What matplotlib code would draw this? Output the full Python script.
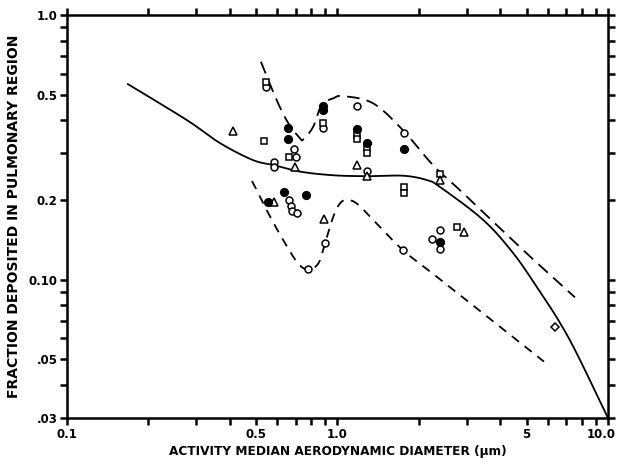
import matplotlib
matplotlib.use("Agg")
import matplotlib.pyplot as plt
import matplotlib.transforms as mtransforms
import numpy as np

# data (diameter in um, fraction deposited)
filled_x = [0.658, 0.658, 0.886, 0.886, 1.178, 1.282, 1.762, 0.634, 0.765, 0.555, 2.393]
filled_y = [0.373, 0.339, 0.453, 0.438, 0.370, 0.328, 0.311, 0.215, 0.209, 0.196, 0.139]

open_x = [0.543, 0.692, 0.703, 0.582, 0.582, 1.178, 1.282, 1.762, 0.664, 0.672, 0.681, 0.708,
          0.899, 0.780, 1.75, 2.393, 2.23, 2.393, 0.886]
open_y = [0.534, 0.313, 0.290, 0.279, 0.266, 0.454, 0.258, 0.359, 0.200, 0.190, 0.182, 0.178,
          0.137, 0.1094, 0.129, 0.154, 0.143, 0.131, 0.373]

square_x = [0.536, 0.543, 0.664, 0.886, 1.178, 1.178, 1.282, 1.282, 1.762, 1.762, 2.393, 2.76]
square_y = [0.335, 0.557, 0.290, 0.390, 0.352, 0.339, 0.314, 0.302, 0.224, 0.213, 0.251, 0.158]

tri_x = [0.412, 0.696, 1.178, 1.282, 2.393, 0.582, 0.891, 2.94]
tri_y = [0.365, 0.266, 0.271, 0.246, 0.238, 0.197, 0.169, 0.151]

diamond_x = [6.37]
diamond_y = [0.0664]

# hand-drawn curves, anchor points
solid_x = [0.168, 0.2773, 0.368, 0.487, 0.582, 0.727, 0.962, 1.282, 1.75, 2.136, 2.393,
           3.46, 4.47, 5.45, 6.55, 7.66, 10.0]
solid_y = [0.548, 0.401, 0.328, 0.283, 0.271, 0.256, 0.248, 0.246, 0.247, 0.238, 0.224,
           0.168, 0.1257, 0.094, 0.0704, 0.0527, 0.030]

upper_x = [0.521, 0.596, 0.658, 0.727, 0.748, 0.813, 0.874, 0.967, 1.05, 1.353, 1.747, 2.254,
           2.91, 4.93, 7.55]
upper_y = [0.666, 0.477, 0.390, 0.342, 0.339, 0.378, 0.457, 0.485, 0.494, 0.464, 0.367, 0.271,
           0.2125, 0.1275, 0.0857]

lower_x = [0.483, 0.5475, 0.630, 0.716, 0.780, 0.849, 0.899, 0.965, 1.021, 1.082, 1.178,
           1.357, 1.75, 2.327, 5.80]
lower_y = [0.236, 0.183, 0.141, 0.115, 0.1094, 0.115, 0.137, 0.173, 0.194, 0.200, 0.194,
           0.168, 0.129, 0.1026, 0.049]


def smooth(xs, ys, n=20):
    # Catmull-Rom through the anchors, in log space
    p = np.column_stack([np.log10(xs), np.log10(ys)])
    p = np.vstack([2 * p[0] - p[1], p, 2 * p[-1] - p[-2]])
    out = []
    t = np.linspace(0, 1, n, endpoint=False)[:, None]
    for i in range(1, len(p) - 2):
        p0, p1, p2, p3 = p[i - 1], p[i], p[i + 1], p[i + 2]
        seg = 0.5 * ((2 * p1) + (-p0 + p2) * t + (2 * p0 - 5 * p1 + 4 * p2 - p3) * t ** 2
                     + (-p0 + 3 * p1 - 3 * p2 + p3) * t ** 3)
        out.append(seg)
    out.append(p[-2][None, :])
    out = np.vstack(out)
    return 10 ** out[:, 0], 10 ** out[:, 1]


plt.rcParams['font.family'] = ['DejaVu Sans']
plt.rcParams['font.weight'] = 'bold'

fig = plt.figure(figsize=(6.19, 4.65), dpi=100)
ax = fig.add_axes([0.1082, 0.1011, 0.8740, 0.8666])
ax.set_xscale('log')
ax.set_yscale('log')
ax.set_xlim(0.1, 10.0)
ax.set_ylim(0.03, 1.0)

sx, sy = smooth(solid_x, solid_y)
ax.plot(sx, sy, color='black', lw=1.3)
ux, uy = smooth(upper_x, upper_y)
ax.plot(ux, uy, color='black', lw=1.3, dashes=(7, 4))
lx, ly = smooth(lower_x, lower_y)
ax.plot(lx, ly, color='black', lw=1.3, dashes=(5, 4))

mk = dict(linestyle='none', color='black', markeredgewidth=1.1)
ax.plot(open_x, open_y, marker='o', markerfacecolor='white', markersize=5, **mk)
ax.plot(square_x, square_y, marker='s', markerfacecolor='white', markersize=5, **mk)
ax.plot(tri_x, tri_y, marker='^', markerfacecolor='white', markersize=6, **mk)
ax.plot(diamond_x, diamond_y, marker='D', markerfacecolor='white', markersize=4.5, **mk)
ax.plot(filled_x, filled_y, marker='o', markerfacecolor='black', markersize=5.5, **mk)

for s in ax.spines.values():
    s.set_linewidth(1.8)

ax.set_xticks([0.1, 0.5, 1.0, 5, 10.0])
ax.set_xticklabels(['0.1', '0.5', '1.0', '5', '10.0'])
ax.set_yticks([0.03, 0.05, 0.1, 0.2, 0.5, 1.0])
ax.set_yticklabels(['.03', '.05', '0.10', '0.2', '0.5', '1.0'])
xminor = [0.2, 0.3, 0.4, 0.6, 0.7, 0.8, 0.9, 2, 3, 4, 6, 7, 8, 9]
yminor = [0.04, 0.06, 0.07, 0.08, 0.09, 0.3, 0.4, 0.6, 0.7, 0.8, 0.9]
ax.set_xticks(xminor, minor=True)
ax.set_yticks(yminor, minor=True)
ax.xaxis.set_minor_formatter(matplotlib.ticker.NullFormatter())
ax.yaxis.set_minor_formatter(matplotlib.ticker.NullFormatter())
ax.tick_params(which='both', direction='out', length=5, width=1.8,
               top=True, right=True, labelsize=8.5, pad=2)

# keep "10.0" inside the figure
last = ax.get_xticklabels()[-1]
last.set_transform(last.get_transform() + mtransforms.ScaledTranslation(-5 / 72, 0, fig.dpi_scale_trans))

ax.set_xlabel('ACTIVITY MEDIAN AERODYNAMIC DIAMETER (\u03bcm)', fontsize=8.7, fontweight='bold', labelpad=3)
ax.set_ylabel('FRACTION DEPOSITED IN PULMONARY REGION', fontsize=10, fontweight='bold', labelpad=5)

fig.savefig('out.png', dpi=100)
